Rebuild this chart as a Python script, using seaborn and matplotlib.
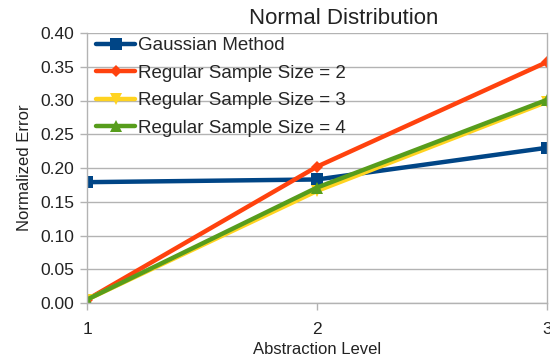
import matplotlib
matplotlib.use("Agg")
import matplotlib.pyplot as plt
import seaborn as sns
import pandas as pd

levels = [1, 2, 3]
gaussian = [0.179, 0.183, 0.230]
size2 = [0.005, 0.202, 0.357]
size3 = [0.005, 0.166, 0.298]
size4 = [0.005, 0.171, 0.301]
series_names = ["Gaussian Method", "Regular Sample Size = 2",
                "Regular Sample Size = 3", "Regular Sample Size = 4"]
colors = ["#004586", "#ff420e", "#ffd320", "#579d1c"]
marker_list = ["s", "D", "v", "^"]
marker_sizes = [9, 6.5, 9, 9]
yticks = [0.0, 0.05, 0.10, 0.15, 0.20, 0.25, 0.30, 0.35, 0.40]

sns.set_theme(style="white")
plt.rcParams["font.family"] = ["Liberation Sans", "DejaVu Sans"]

rows = []
for name, vals in zip(series_names, [gaussian, size2, size3, size4]):
    for lv, v in zip(levels, vals):
        rows.append({"level": lv, "error": v, "series": name})
df = pd.DataFrame(rows)

fig = plt.figure(figsize=(5.5, 3.62), dpi=100)
ax = fig.add_axes([87/550, 1 - 303/362, (547 - 87)/550, (303 - 33)/362])

for name, col, mk, ms in zip(series_names, colors, marker_list, marker_sizes):
    sub = df[df["series"] == name]
    sns.lineplot(data=sub, x="level", y="error", ax=ax, color=col,
                 marker=mk, markersize=ms, markeredgewidth=0, linewidth=3.2,
                 label=name, legend=False)

handles = ax.get_lines()
leg = ax.legend(handles=handles, labels=series_names, loc="upper left",
                bbox_to_anchor=(-0.005, 1.027), frameon=False, fontsize=13.5,
                handlelength=2.1, handletextpad=0.15, labelspacing=0.56,
                borderaxespad=0.2)

ax.set_xlim(1, 3)
ax.set_ylim(0, 0.40)
ax.set_xticks(levels)
ax.set_xticklabels([str(l) for l in levels])
ax.set_yticks(yticks)
ax.set_yticklabels([f"{t:.2f}" for t in yticks])
ax.yaxis.grid(True, color="#b3b3b3", linewidth=1)
ax.xaxis.grid(False)
ax.set_axisbelow(True)
for s in ["left", "bottom", "right"]:
    ax.spines[s].set_color("#b3b3b3")
    ax.spines[s].set_linewidth(1)
ax.spines["top"].set_visible(False)
ax.tick_params(axis="both", which="both", direction="out", length=5,
               color="#b3b3b3", width=1, labelsize=12.5, labelcolor="#222222",
               left=True, bottom=True)
ax.tick_params(axis="y", pad=4)
ax.tick_params(axis="x", pad=9)

ax.set_xlabel("Abstraction Level", fontsize=12, color="#222222", labelpad=3)
ax.set_ylabel("Normalized Error", fontsize=12, color="#222222", labelpad=6)
fig.text(344/550, 1 - 18/362, "Normal Distribution", fontsize=16,
         color="#222222", ha="center", va="center")

fig.savefig("out.png", dpi=100, facecolor="white")
